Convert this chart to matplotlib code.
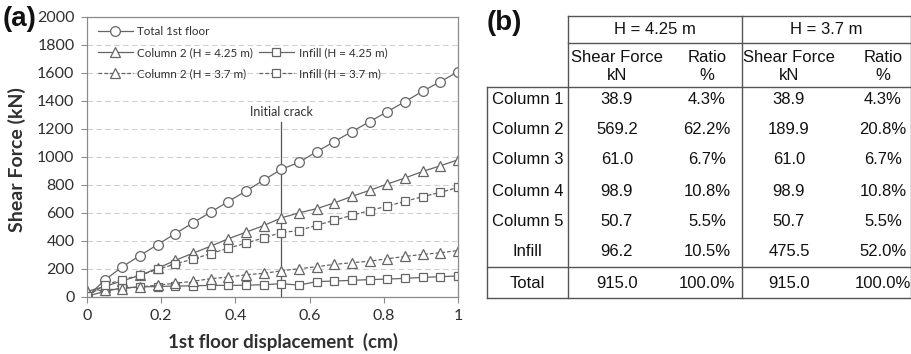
import matplotlib
matplotlib.use("Agg")
import matplotlib.pyplot as plt
import numpy as np
from matplotlib.lines import Line2D

# ── data ──────────────────────────────────────────────────
n_steps = 21
disp = np.arange(n_steps + 1) / n_steps          # 1st floor displacement (cm)

total_1st = [0, 121, 216, 296, 375, 453, 530, 606, 682, 757, 835, 912,
             962, 1038, 1110, 1182, 1252, 1324, 1395, 1470, 1538, 1609]
col2_425 = [40, 75, 115, 155, 205, 262, 313, 363, 416, 463, 510, 565,
            601, 631, 672, 719, 762, 807, 850, 897, 937, 980]
infill_425 = [5, 40, 65, 72, 75, 78, 80, 83, 83, 84, 88, 95,
              85, 110, 114, 119, 124, 128, 133, 140, 145, 150]
col2_37 = [40, 50, 60, 72, 85, 98, 112, 131, 142, 159, 169, 187,
           202, 216, 233, 245, 256, 273, 290, 304, 316, 332]
infill_37 = [5, 85, 125, 155, 198, 235, 272, 309, 349, 384, 423, 460,
             475, 512, 548, 584, 617, 650, 683, 717, 747, 783]
crack_disp = 11 / 21

# table (b)
row_labels = ["Column 1", "Column 2", "Column 3", "Column 4", "Column 5", "Infill"]
force_425 = ["38.9", "569.2", "61.0", "98.9", "50.7", "96.2"]
ratio_425 = ["4.3%", "62.2%", "6.7%", "10.8%", "5.5%", "10.5%"]
force_37 = ["38.9", "189.9", "61.0", "98.9", "50.7", "475.5"]
ratio_37 = ["4.3%", "20.8%", "6.7%", "10.8%", "5.5%", "52.0%"]
total_row = ["Total", "915.0", "100.0%", "915.0", "100.0%"]

# ── style ─────────────────────────────────────────────────
LINE = "#656565"
SPINE = "#8c8c8c"
GRID = "#cfcfcf"
TXT = "#303030"
plot_font = ["Lato", "DejaVu Sans"]
tab_font = ["Liberation Sans", "DejaVu Sans"]

W, H = 912, 354
fig = plt.figure(figsize=(W / 100, H / 100), dpi=100)
fig.patch.set_facecolor("white")

# ── (a) shear force vs displacement ───────────────────────
ax = fig.add_axes([87 / W, 1 - 297 / H, 371 / W, 280 / H])
mk = dict(markerfacecolor="white", markeredgecolor=LINE, markeredgewidth=0.9,
          color=LINE, linewidth=0.9)
dash = (0, (3, 1.6))
h_tot, = ax.plot(disp, total_1st, marker="o", markersize=7, label="Total 1st floor", **mk)
h_c425, = ax.plot(disp, col2_425, marker="^", markersize=6.5,
                  label="Column 2 (H = 4.25 m)", **mk)
h_i425, = ax.plot(disp, infill_425, marker="s", markersize=5.5,
                  label="Infill (H = 4.25 m)", **mk)
h_c37, = ax.plot(disp, col2_37, marker="^", markersize=6.5, linestyle=dash,
                 label="Column 2 (H = 3.7 m)", **mk)
h_i37, = ax.plot(disp, infill_37, marker="s", markersize=5.5, linestyle=dash,
                 label="Infill (H = 3.7 m)", **mk)

ax.plot([crack_disp, crack_disp], [0, 1250], color="#555555", linewidth=0.9, zorder=1)
ax.text(crack_disp, 1275, "Initial crack", ha="center", va="bottom",
        fontsize=9, family=plot_font, color=TXT)

ax.set_xlim(0, 1)
ax.set_ylim(0, 2000)
ax.set_xticks([0, 0.2, 0.4, 0.6, 0.8, 1])
ax.set_xticklabels(["0", "0.2", "0.4", "0.6", "0.8", "1"])
ax.set_yticks(np.arange(0, 2001, 200))
ax.grid(axis="y", linestyle=(0, (5, 3)), color=GRID, linewidth=0.8)
ax.set_axisbelow(True)
for s in ax.spines.values():
    s.set_color(SPINE)
    s.set_linewidth(0.9)
ax.tick_params(direction="out", length=4, width=0.8, color=SPINE,
               labelsize=11.5, labelcolor=TXT, pad=5)
for lab in ax.get_xticklabels() + ax.get_yticklabels():
    lab.set_family(plot_font)

ylab = ax.set_ylabel("Shear Force (kN)", fontsize=14, fontweight="bold",
                     family=plot_font, color=TXT)
ylab.set_va("center")
ax.yaxis.set_label_coords(-0.189, 0.49)
xlab = ax.set_xlabel("1st floor displacement  (cm)", fontsize=13.5, fontweight="bold",
                     family=plot_font, color=TXT)
xlab.set_va("center")
ax.xaxis.set_label_coords(0.527, -0.16)

blank = Line2D([], [], linestyle="none")
leg = ax.legend([h_tot, h_c425, h_c37, blank, h_i425, h_i37],
                ["Total 1st floor", "Column 2 (H = 4.25 m)", "Column 2 (H = 3.7 m)",
                 "", "Infill (H = 4.25 m)", "Infill (H = 3.7 m)"],
                ncol=2, loc="upper left", bbox_to_anchor=(0.0, 1.005),
                frameon=False, handlelength=3.0, handletextpad=0.4,
                columnspacing=0.5, labelspacing=0.85,
                prop={"family": plot_font, "size": 8.4})
for t in leg.get_texts():
    t.set_color(TXT)

fig.text(3 / W, 1 - 18.5 / H, "(a)", fontsize=20, fontweight="bold",
         family=tab_font, va="center", ha="left", color="#111111")

# ── (b) table, drawn in pixel coordinates ─────────────────
tb = fig.add_axes([0, 0, 1, 1])
tb.set_xlim(0, W)
tb.set_ylim(H, 0)
tb.axis("off")

x_left, x_lab, x_mid, x_right = 486.7, 567.7, 741.7, 911.0
y_top, y_h1, y_h2, y_sep, y_bot = 16.0, 42.7, 87.3, 267.3, 297.7
lk = dict(color="#555555", linewidth=1.0)
tb.plot([x_lab, x_right], [y_top, y_top], **lk)
tb.plot([x_lab, x_right], [y_h1, y_h1], **lk)
tb.plot([x_left, x_right], [y_h2, y_h2], **lk)
tb.plot([x_left, x_right], [y_sep, y_sep], **lk)
tb.plot([x_left, x_right], [y_bot, y_bot], **lk)
tb.plot([x_left, x_left], [y_h2, y_bot], **lk)
for xv in (x_lab, x_mid, x_right):
    tb.plot([xv, xv], [y_top, y_bot], **lk)

tk = dict(ha="center", va="center", fontsize=12, family=tab_font, color="#111111")
col_x = [617, 707, 789, 883]
tb.text(655, 30, "H = 4.25 m", **tk)
tb.text(826, 30, "H = 3.7 m", **tk)
for cx, (a, b) in zip(col_x, [("Shear Force", "kN"), ("Ratio", "%"),
                              ("Shear Force", "kN"), ("Ratio", "%")]):
    tb.text(cx, 57, a, **tk)
    tb.text(cx, 75, b, **tk)

row_y = [99, 129.5, 160, 191, 221.5, 252]
for ry, lab, f1, r1, f2, r2 in zip(row_y, row_labels, force_425, ratio_425,
                                   force_37, ratio_37):
    tb.text(527.5, ry, lab, **tk)
    for cx, v in zip(col_x, (f1, r1, f2, r2)):
        tb.text(cx, ry, v, **tk)
tb.text(527.5, 283, total_row[0], **tk)
for cx, v in zip(col_x, total_row[1:]):
    tb.text(cx, 283, v, **tk)

fig.text(487 / W, 1 - 22.5 / H, "(b)", fontsize=20, fontweight="bold",
         family=tab_font, va="center", ha="left", color="#111111")

fig.savefig("out.png", dpi=100, facecolor="white")
